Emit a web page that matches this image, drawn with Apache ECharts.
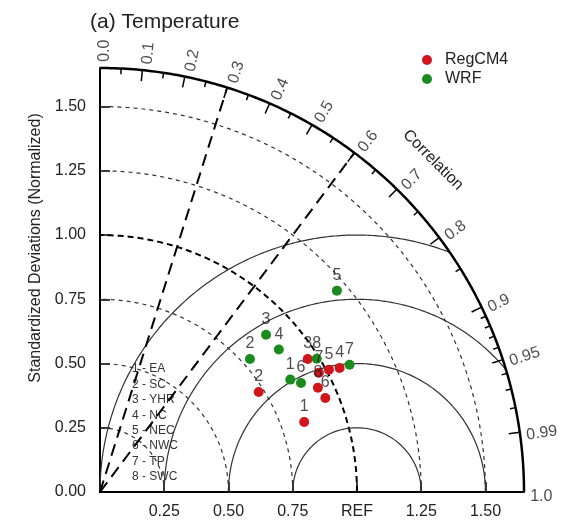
<!DOCTYPE html>
<html>
<head>
<meta charset="utf-8">
<title>Taylor diagram - Temperature</title>
<script src="https://cdn.jsdelivr.net/npm/echarts@6/dist/echarts.min.js"></script>
</head>
<body style="margin:0">
<div id="main" style="width:564px;height:521px;"></div>
<script>
// regions, numbered 1..8
var regionNames = ['1 - EA', '2 - SC', '3 - YHR', '4 - NC', '5 - NEC', '6 - NWC', '7 - TP', '8 - SWC'];
var pointIds = ['1', '2', '3', '4', '5', '6', '7', '8'];

// normalized standard deviation and correlation per region
var regcmStd  = [0.84, 0.73, 0.96, 1.05, 1.01, 0.95, 0.97, 0.94];
var regcmCorr = [0.946, 0.846, 0.842, 0.888, 0.882, 0.923, 0.878, 0.902];
var wrfStd    = [0.86, 0.78, 0.89, 0.89, 1.21, 0.89, 1.09, 0.99];
var wrfCorr   = [0.861, 0.748, 0.726, 0.782, 0.762, 0.879, 0.891, 0.852];

// axes
var xTicks = [0.25, 0.5, 0.75, 1, 1.25, 1.5];
var xTickLabels = ['0.25', '0.50', '0.75', 'REF', '1.25', '1.50'];
var yTicks = [0, 0.25, 0.5, 0.75, 1, 1.25, 1.5];
var yTickLabels = ['0.00', '0.25', '0.50', '0.75', '1.00', '1.25', '1.50'];
var corrMajor = [0, 0.1, 0.2, 0.3, 0.4, 0.5, 0.6, 0.7, 0.8, 0.9, 0.95, 0.99, 1];
var corrMajorLabels = ['0.0', '0.1', '0.2', '0.3', '0.4', '0.5', '0.6', '0.7', '0.8', '0.9', '0.95', '0.99', '1.0'];
var corrMinor = [0.05, 0.15, 0.25, 0.35, 0.45, 0.55, 0.65, 0.75, 0.85, 0.91, 0.92, 0.93, 0.94, 0.96, 0.97, 0.98];
var stdArcs = [0.25, 0.5, 0.75, 1.25, 1.5];
var refStd = 1.0;
var rmsArcs = [0.25, 0.5, 0.75, 1.0];
var corrLines = [0.3, 0.6];
var maxStd = 1.65;

var RED = '#d0161b', GREEN = '#1a8c1f';
var FONT = 'Liberation Sans, Arial, sans-serif';

function pt(s, c) { return [s * c, s * Math.sqrt(1 - c * c)]; }

var series = [];
function arc(points, style) {
    series.push({type: 'line', data: points, symbol: 'none', silent: true, clip: false,
        lineStyle: style, z: 1, animation: false});
}

// std dev arcs (dotted) and the reference arc (bold dashed)
stdArcs.concat([refStd]).forEach(function (r) {
    var p = [];
    for (var i = 0; i <= 180; i++) {
        var a = i / 180 * Math.PI / 2;
        p.push([r * Math.cos(a), r * Math.sin(a)]);
    }
    arc(p, r === refStd ? {color: '#000', width: 2, type: [6, 4]} : {color: '#333', width: 1.2, type: [4, 4]});
});

// centered RMS difference arcs around REF
rmsArcs.forEach(function (d) {
    var a0 = 0;
    if (1 + d > maxStd) {
        var xi = (maxStd * maxStd - d * d + 1) / 2;
        var yi = Math.sqrt(maxStd * maxStd - xi * xi);
        a0 = Math.atan2(yi, xi - 1);
    }
    var p = [];
    for (var i = 0; i <= 200; i++) {
        var a = a0 + (Math.PI - a0) * i / 200;
        p.push([1 + d * Math.cos(a), d * Math.sin(a)]);
    }
    arc(p, {color: '#333', width: 1.2});
});

// outer correlation arc
(function () {
    var p = [];
    for (var i = 0; i <= 180; i++) {
        var a = i / 180 * Math.PI / 2;
        p.push([maxStd * Math.cos(a), maxStd * Math.sin(a)]);
    }
    arc(p, {color: '#000', width: 2.5});
})();

// correlation ticks
var tickData = [];
corrMajor.forEach(function (c) {
    if (c === 0 || c === 1) return;
    tickData.push({coords: [pt(maxStd, c), pt(maxStd - 0.043, c)]});
});
corrMinor.forEach(function (c) {
    tickData.push({coords: [pt(maxStd, c), pt(maxStd - 0.022, c)]});
});
series.push({type: 'lines', coordinateSystem: 'cartesian2d', data: tickData, silent: true,
    lineStyle: {color: '#000', width: 1.5, opacity: 1}, z: 2, animation: false});

// bold dashed correlation lines
series.push({type: 'lines', coordinateSystem: 'cartesian2d', silent: true, z: 2, animation: false,
    data: corrLines.map(function (c) { return {coords: [[0, 0], pt(maxStd, c)]}; }),
    lineStyle: {color: '#000', width: 2, type: [12, 7], opacity: 1}});

// correlation tick labels
var corrLabelData = corrMajor.map(function (c, i) {
    var th = Math.acos(c);
    var r = maxStd + 0.024, sh = 0.016;
    return {
        value: [r * Math.cos(th) + sh * Math.sin(th), r * Math.sin(th) - sh * Math.cos(th)],
        label: {formatter: corrMajorLabels[i], rotate: th * 180 / Math.PI}
    };
});
series.push({type: 'scatter', symbolSize: 0, silent: true, z: 3, clip: false, data: corrLabelData, animation: false,
    label: {show: true, position: 'inside', align: 'left', verticalAlign: 'middle',
        fontSize: 16, color: '#222', fontFamily: FONT}});

// model points
function toPoints(std, corr) {
    return std.map(function (s, i) { return pt(s, corr[i]); });
}
series.push({name: 'RegCM4', type: 'scatter', symbolSize: 10, z: 4, animation: false,
    itemStyle: {color: RED, opacity: 1}, data: toPoints(regcmStd, regcmCorr)});
series.push({name: 'WRF', type: 'scatter', symbolSize: 10, z: 4, animation: false,
    itemStyle: {color: GREEN, opacity: 1}, data: toPoints(wrfStd, wrfCorr)});

// point number labels on top
function labelData(std, corr) {
    return std.map(function (s, i) { return {name: pointIds[i], value: pt(s, corr[i])}; });
}
[[regcmStd, regcmCorr], [wrfStd, wrfCorr]].forEach(function (d) {
    series.push({type: 'scatter', symbolSize: 0, silent: true, z: 5, animation: false,
        data: labelData(d[0], d[1]),
        label: {show: true, position: 'top', distance: 7, formatter: '{b}',
            fontSize: 16, color: '#222', fontFamily: FONT}});
});

var graphics = [
    {type: 'text', x: 36, y: 248, rotation: Math.PI / 2,
        style: {text: 'Standardized Deviations (Normalized)', font: '16px ' + FONT, fill: '#222',
            align: 'center', verticalAlign: 'middle'}},
    {type: 'text', x: 433, y: 160, rotation: -Math.PI / 4,
        style: {text: 'Correlation', font: '16px ' + FONT, fill: '#222',
            align: 'center', verticalAlign: 'middle'}}
];
regionNames.forEach(function (n, i) {
    graphics.push({type: 'text', x: 132, y: 369 + i * 15.4,
        style: {text: n, font: '12px ' + FONT, fill: '#333', verticalAlign: 'middle'}});
});

var chart = echarts.init(document.getElementById('main'));
chart.setOption({
    animation: false,
    backgroundColor: '#fff',
    title: {text: '(a) Temperature', left: 85, top: 7,
        textStyle: {fontSize: 21, fontWeight: 'normal', color: '#222', fontFamily: FONT}},
    legend: {data: ['RegCM4', 'WRF'], orient: 'vertical', left: 417, top: 47,
        icon: 'circle', itemWidth: 26, itemHeight: 10, itemGap: 3,
        textStyle: {fontSize: 16, color: '#222', fontFamily: FONT}},
    grid: {left: 100, top: 68, width: 424, height: 424, outerBoundsMode: 'none'},
    xAxis: {type: 'value', min: 0, max: maxStd,
        splitLine: {show: false},
        axisLine: {lineStyle: {color: '#000', width: 2}},
        axisTick: {inside: true, length: 10, customValues: xTicks, lineStyle: {color: '#000', width: 1.5}},
        axisLabel: {customValues: xTicks, margin: 12, fontSize: 16, color: '#222', fontFamily: FONT,
            formatter: function (v) { var i = xTicks.indexOf(v); return i < 0 ? '' : xTickLabels[i]; }}},
    yAxis: {type: 'value', min: 0, max: maxStd,
        splitLine: {show: false},
        axisLine: {lineStyle: {color: '#000', width: 2}},
        axisTick: {inside: true, length: 10, customValues: yTicks, lineStyle: {color: '#000', width: 1.5}},
        axisLabel: {customValues: yTicks, margin: 14, fontSize: 16, color: '#222', fontFamily: FONT,
            formatter: function (v) { var i = yTicks.indexOf(v); return i < 0 ? '' : yTickLabels[i]; }}},
    graphic: graphics,
    series: series
});
</script>
</body>
</html>
